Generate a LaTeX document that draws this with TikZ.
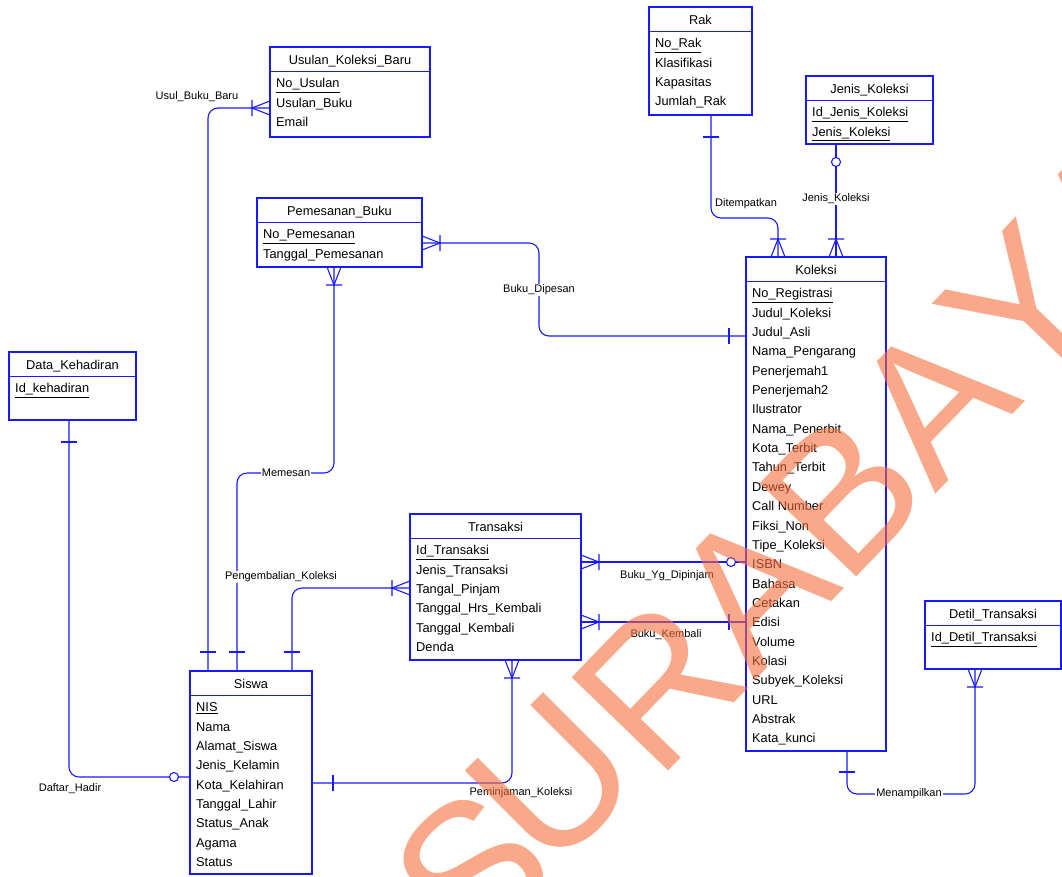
\documentclass[tikz,border=0pt]{standalone}
\usepackage{fontspec}
\setmainfont{Liberation Sans}
\usetikzlibrary{calc}
\definecolor{erblue}{RGB}{25,25,255}
\definecolor{wmcol}{RGB}{245,110,60}
\newcommand\attfont{\fontsize{12.8}{15}\selectfont}
\newcommand\lblfont{\fontsize{11}{13}\selectfont}
\newcommand\wmfont{\fontsize{195}{200}\selectfont}
\newcommand\ent[6]{%
  \node[entbox, minimum width=#4pt, minimum height=#5pt] (#1) at (#2,#3) {};
  \node[enttitle] (#1-t) at ($(#1.north)+(0,12.5)$) {#6};
  \draw[entline] ($(#1.north west)+(0,24.5)$) -- ($(#1.north east)+(0,24.5)$);
}
\newcommand\attrs[2]{%
  \foreach \t [count=\i from 0] in {#2} {%
    \node[attr] (#1-r\i) at ($(#1.north west)+(6,{40.8+\i*19.35})$) {\t};}%
}
\tikzset{
  crow/.pic={\draw[relline] (0,-7) -- (18,0) -- (0,7) (18,-8) -- (18,8);},
  onebar/.pic={\draw[relline] (#1,-8) -- (#1,8);},
  zcirc/.pic={\draw[relline, fill=white] (#1,0) circle[radius=4.5];}
}
\begin{document}
\begin{tikzpicture}[x=1pt,y=-1pt,
  entbox/.style={draw=erblue, line width=1.3pt, anchor=north west, inner sep=0pt, outer sep=0pt, fill=white},
  entline/.style={draw=erblue, line width=1.3pt},
  enttitle/.style={font=\attfont, inner sep=0pt, text height=9.2pt, text depth=0pt},
  attr/.style={font=\attfont, inner sep=0pt, anchor=base west},
  relline/.style={draw=erblue, line width=1.1pt},
  rel/.style={relline, rounded corners=10pt},
  lbl/.style={font=\lblfont, fill=white, inner sep=1pt},
  lblnf/.style={font=\lblfont, inner sep=1pt},
  wm/.style={font=\wmfont, text=wmcol, text opacity=0.6, inner sep=0pt, anchor=base west}]
\useasboundingbox (0,0) rectangle (1062,876);

% entities
\ent{usulan}{270}{47}{160}{90}{Usulan\_Koleksi\_Baru}
\attrs{usulan}{\underline{No\_Usulan}, Usulan\_Buku, Email}
\ent{rak}{649}{7}{103}{108}{Rak}
\attrs{rak}{\underline{No\_Rak}, Klasifikasi, Kapasitas, Jumlah\_Rak}
\ent{jenis}{806}{76}{127}{68}{Jenis\_Koleksi}
\attrs{jenis}{\underline{Id\_Jenis\_Koleksi}, \underline{Jenis\_Koleksi}}
\ent{pesan}{257}{198}{165}{69}{Pemesanan\_Buku}
\attrs{pesan}{\underline{No\_Pemesanan}, Tanggal\_Pemesanan}
\ent{hadir}{9}{352}{127}{68}{Data\_Kehadiran}
\attrs{hadir}{\underline{Id\_kehadiran}}
\ent{koleksi}{746}{257}{140}{494}{Koleksi}
\attrs{koleksi}{\underline{No\_Registrasi}, Judul\_Koleksi, Judul\_Asli, Nama\_Pengarang, Penerjemah1, Penerjemah2, Ilustrator, Nama\_Penerbit, Kota\_Terbit, Tahun\_Terbit, Dewey, Call Number, Fiksi\_Non, Tipe\_Koleksi, ISBN, Bahasa, Cetakan, Edisi, Volume, Kolasi, Subyek\_Koleksi, URL, Abstrak, Kata\_kunci}
\ent{trans}{410}{514}{171}{146}{Transaksi}
\attrs{trans}{\underline{Id\_Transaksi}, Jenis\_Transaksi, Tangal\_Pinjam, Tanggal\_Hrs\_Kembali, Tanggal\_Kembali, Denda}
\ent{siswa}{190}{671}{122}{203}{Siswa}
\attrs{siswa}{\underline{NIS}, Nama, Alamat\_Siswa, Jenis\_Kelamin, Kota\_Kelahiran, Tanggal\_Lahir, Status\_Anak, Agama, Status}
\ent{detil}{925}{601}{136}{68}{Detil\_Transaksi}
\attrs{detil}{\underline{Id\_Detil\_Transaksi}}

% connector end points
\coordinate (s-ub) at ($(siswa.north west)+(18,0)$);
\coordinate (u-ub) at ($(usulan.north west)+(0,61)$);
\coordinate (s-mm) at ($(siswa.north west)+(47,0)$);
\coordinate (p-mm) at ($(pesan.south west)+(77,0)$);
\coordinate (mm) at (286,473);
\coordinate (s-pk) at ($(siswa.north west)+(102,0)$);
\coordinate (t-pk) at ($(trans.north west)+(0,74)$);
\coordinate (d-dh) at ($(hadir.south west)+(60,0)$);
\coordinate (s-dh) at ($(siswa.north west)+(0,106)$);
\coordinate (s-pj) at ($(siswa.north east)+(0,112)$);
\coordinate (t-pj) at ($(trans.south west)+(102,0)$);
\coordinate (pe-bd) at ($(pesan.north east)+(0,45)$);
\coordinate (k-bd) at ($(koleksi.north west)+(0,79)$);
\coordinate (bd) at (539,290);
\coordinate (r-dt) at ($(rak.south west)+(62,0)$);
\coordinate (k-dt) at ($(koleksi.north west)+(32,0)$);
\coordinate (dtm) at (745,218);
\coordinate (j-jk) at ($(jenis.south west)+(30,0)$);
\coordinate (k-jk) at ($(koleksi.north west)+(90,0)$);
\coordinate (t-yd) at ($(trans.north east)+(0,48)$);
\coordinate (k-yd) at ($(koleksi.north west)+(0,305)$);
\coordinate (t-bk) at ($(trans.north east)+(0,108)$);
\coordinate (k-bk) at ($(koleksi.north west)+(0,365)$);
\coordinate (k-mp) at ($(koleksi.south west)+(101,0)$);
\coordinate (dt-mp) at ($(detil.south west)+(50,0)$);
\coordinate (mp) at (909,794);

% connectors
\draw[rel] (s-ub) |- (u-ub);
\draw[rel] (s-mm) |- (mm) -| (p-mm);
\draw[rel] (s-pk) |- (t-pk);
\draw[rel] (d-dh) |- (s-dh);
\draw[rel] (s-pj) -| (t-pj);
\draw[rel] (pe-bd) -| (bd) |- (k-bd);
\draw[rel] (r-dt) |- (dtm) -| (k-dt);
\draw[rel] (j-jk) -- (k-jk);
\draw[rel] (t-yd) -- (k-yd);
\draw[rel] (t-bk) -- (k-bk);
\draw[rel] (k-mp) |- (mp) -| (dt-mp);

% cardinality marks
\pic[rotate=180] at (u-ub) {crow};
\pic[rotate=90] at (s-ub) {onebar=19};
\pic[rotate=-90] at (p-mm) {crow};
\pic[rotate=90] at (s-mm) {onebar=19};
\pic[rotate=180] at (t-pk) {crow};
\pic[rotate=90] at (s-pk) {onebar=19};
\pic[rotate=-90] at (d-dh) {onebar=22};
\pic[rotate=180] at (s-dh) {zcirc=16};
\pic[rotate=0] at (s-pj) {onebar=21};
\pic[rotate=-90] at (t-pj) {crow};
\pic[rotate=0] at (pe-bd) {crow};
\pic[rotate=180] at (k-bd) {onebar=17};
\pic[rotate=-90] at (r-dt) {onebar=22};
\pic[rotate=90] at (k-dt) {crow};
\pic[rotate=-90] at (j-jk) {zcirc=18};
\pic[rotate=90] at (k-jk) {crow};
\pic[rotate=0] at (t-yd) {crow};
\pic[rotate=180] at (k-yd) {zcirc=15};
\pic[rotate=0] at (t-bk) {crow};
\pic[rotate=180] at (k-bk) {onebar=17};
\pic[rotate=-90] at (k-mp) {onebar=21};
\pic[rotate=-90] at (dt-mp) {crow};

% relationship labels
\node[lbl] (l-ub) at (197,97) {Usul\_Buku\_Baru};
\node[lbl] (l-mm) at (mm) {Memesan};
\node[lbl] (l-pk) at (281,577) {Pengembalian\_Koleksi};
\node[lbl] (l-dh) at (70,789) {Daftar\_Hadir};
\node[lbl] (l-pj) at (521,793) {Peminjaman\_Koleksi};
\node[lbl] (l-bd) at (bd) {Buku\_Dipesan};
\node[lblnf] (l-dt) at (746,204) {Ditempatkan};
\node[lbl] (l-jk) at (836,199) {Jenis\_Koleksi};
\node[lbl] (l-yd) at (667,576) {Buku\_Yg\_Dipinjam};
\node[lbl] (l-bk) at (666,635) {Buku\_Kembali};
\node[lbl] (l-mp) at (mp) {Menampilkan};

% watermark
\node[wm, rotate=43] (wm1) at (470,965) {S};
\node[wm, rotate=45] (wm2) at (549,877) {U};
\node[wm, rotate=46] (wm3) at (657,783) {R};
\node[wm, rotate=46] (wm4) at (754,682) {A};
\node[wm, rotate=46] (wm5) at (845,589) {B};
\node[wm, rotate=46] (wm6) at (935,495) {A};
\node[wm, rotate=46] (wm7) at (1025,401) {Y};
\node[wm, rotate=46] (wm8) at (1116,308) {A};
\end{tikzpicture}
\end{document}
